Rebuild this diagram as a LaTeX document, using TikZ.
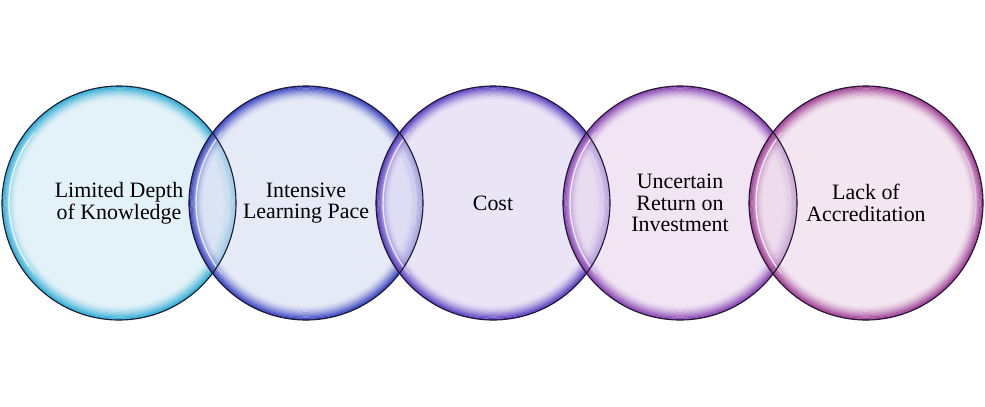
\documentclass[tikz,border=0pt]{standalone}
\usepackage{fontspec}
\setmainfont{Liberation Serif}
\definecolor{rimA}{RGB}{40,170,212}
\definecolor{fillA}{RGB}{212,235,244}
\definecolor{rimB}{RGB}{50,62,190}
\definecolor{fillB}{RGB}{216,221,241}
\definecolor{rimC}{RGB}{85,55,190}
\definecolor{fillC}{RGB}{221,215,241}
\definecolor{rimD}{RGB}{130,60,175}
\definecolor{fillD}{RGB}{233,215,238}
\definecolor{rimE}{RGB}{155,55,145}
\definecolor{fillE}{RGB}{237,217,232}
\definecolor{edgeline}{RGB}{30,25,45}
\tikzset{
  bubtext/.style={font=\fontsize{22}{21.7}\selectfont, align=center, text=black, inner sep=0pt},
  bubfill/.style={fill opacity=0.65},
  bubedge/.style={draw=edgeline, line width=1.1bp},
  gloss/.style={draw=white, line width=1.4bp, line cap=round},
}
\newcommand\bubbleshape[3]{%
  \fill[#3, bubfill] (#1) circle[radius=117];
  \foreach \k in {0,...,11}{%
    \pgfmathsetmacro\op{1.0*(1-\k/12)^1.8}%
    \draw[#2, line width=1.3bp, draw opacity=\op] (#1) circle[radius=116.4-1.2*\k];
  }%
  \draw[gloss, draw opacity=0.75] (#1) ++(145:110) arc[start angle=145, end angle=215, radius=110];
  \draw[gloss, draw opacity=0.35] (#1) ++(140:110) arc[start angle=140, end angle=145, radius=110];
  \draw[gloss, draw opacity=0.35] (#1) ++(215:110) arc[start angle=215, end angle=220, radius=110];
  \draw[gloss, draw opacity=0.4] (#1) ++(-28:110) arc[start angle=-28, end angle=12, radius=110];
}
\begin{document}
\begin{tikzpicture}[x=1bp, y=-1bp]
\useasboundingbox (0,0) rectangle (985,406);
\coordinate (p1) at (119,203);
\coordinate (p2) at (306,203);
\coordinate (p3) at (493,203);
\coordinate (p4) at (680,203);
\coordinate (p5) at (866,203);
\bubbleshape{p1}{rimA}{fillA}
\bubbleshape{p2}{rimB}{fillB}
\bubbleshape{p3}{rimC}{fillC}
\bubbleshape{p4}{rimD}{fillD}
\bubbleshape{p5}{rimE}{fillE}
\foreach \i in {1,...,5}{\draw[bubedge] (p\i) circle[radius=117];}
\node[bubtext] (c1) at (p1) {Limited Depth\\of Knowledge};
\node[bubtext] (c2) at (p2) {Intensive\\Learning Pace};
\node[bubtext] (c3) at (p3) {Cost};
\node[bubtext] (c4) at (p4) {Uncertain\\Return on\\Investment};
\node[bubtext] (c5) at (p5) {Lack of\\Accreditation};
\end{tikzpicture}
\end{document}
